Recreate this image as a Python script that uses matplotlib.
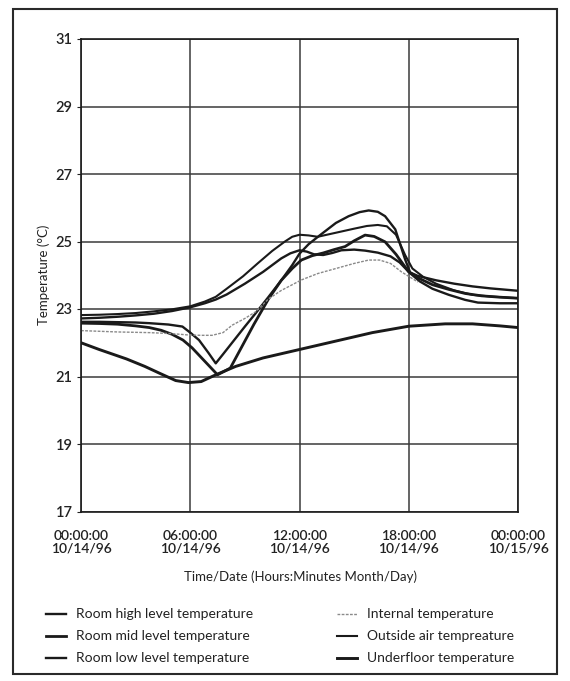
import matplotlib.pyplot as plt
from matplotlib.patches import Rectangle

plt.rcParams['font.family'] = ['Lato', 'DejaVu Sans']

# hours since 00:00 10/14/96
tick_hours = [0, 6, 12, 18, 24]
tick_labels = ['00:00:00\n10/14/96', '06:00:00\n10/14/96', '12:00:00\n10/14/96',
               '18:00:00\n10/14/96', '00:00:00\n10/15/96']

room_high_h = [0, 1, 2, 3, 3.75, 4.8, 5.57, 6.0, 6.48, 7.0, 7.4, 7.8, 8.4, 9.0, 9.6, 10.3,
               11.0, 11.6, 12.0, 12.5, 13.06, 14.0, 14.7, 15.3, 15.8, 16.3, 16.7, 17.26,
               17.8, 18.1, 18.6, 19.3, 20.2, 21.1, 21.8, 23.0, 24.0]
room_high_t = [22.62, 22.62, 22.61, 22.6, 22.58, 22.54, 22.48, 22.3, 22.08, 21.7, 21.39,
               21.66, 22.07, 22.48, 22.88, 23.36, 23.85, 24.3, 24.64, 24.92, 25.16, 25.55,
               25.75, 25.87, 25.92, 25.88, 25.75, 25.36, 24.47, 24.05, 23.82, 23.6, 23.42,
               23.27, 23.19, 23.17, 23.17]

room_mid_h = [0, 1, 2, 3, 3.75, 4.4, 5.0, 5.6, 6.1, 6.8, 7.5, 8.2, 8.8, 9.5, 10.3, 11.0,
              11.6, 12.1, 12.7, 13.3, 13.9, 14.5, 15.0, 15.6, 16.1, 16.7, 17.3, 18.0,
              18.6, 19.3, 20.2, 21.1, 22.0, 23.0, 24.0]
room_mid_t = [22.58, 22.57, 22.55, 22.5, 22.45, 22.37, 22.25, 22.08, 21.85, 21.45, 21.05,
              21.25, 21.85, 22.55, 23.3, 23.85, 24.2, 24.45, 24.58, 24.66, 24.76, 24.85,
              25.02, 25.19, 25.15, 24.99, 24.62, 24.1, 23.9, 23.72, 23.58, 23.46, 23.39,
              23.35, 23.32]

room_low_h = [0, 1, 2, 3, 4, 5, 6, 6.8, 7.4, 8, 9, 10, 10.5, 11, 11.5, 12, 12.4, 12.8,
              13.3, 13.8, 14.3, 15, 15.6, 16.3, 17, 17.5, 18, 18.5, 19.5, 20.5, 21.5,
              22.5, 24]
room_low_t = [22.72, 22.74, 22.77, 22.81, 22.86, 22.94, 23.05, 23.17, 23.28, 23.43, 23.75,
              24.1, 24.3, 24.5, 24.65, 24.74, 24.7, 24.62, 24.6, 24.66, 24.74, 24.76, 24.73,
              24.67, 24.56, 24.38, 24.1, 23.98, 23.85, 23.75, 23.67, 23.61, 23.54]

internal_h = [0, 2, 3.75, 5.0, 5.9, 6.6, 7.2, 7.8, 8.3, 9.0, 9.6, 10.3, 11.0, 12.1, 13.0,
              14.0, 15.0, 15.8, 16.4, 17.0, 17.6, 18.5]
internal_t = [22.36, 22.32, 22.3, 22.27, 22.23, 22.22, 22.22, 22.3, 22.52, 22.72, 22.92,
              23.3, 23.55, 23.86, 24.05, 24.2, 24.35, 24.45, 24.45, 24.35, 24.1, 23.8]

outside_h = [0, 1, 2, 3, 4, 5, 6, 6.8, 7.4, 8, 8.9, 9.7, 10.5, 11.2, 11.6, 12, 12.5, 13,
             13.5, 14, 15, 15.7, 16.3, 16.8, 17.3, 17.8, 18.2, 18.8, 19.5, 20.5, 21.5,
             22.5, 24]
outside_t = [22.82, 22.83, 22.85, 22.88, 22.93, 22.99, 23.08, 23.22, 23.36, 23.6, 23.97,
             24.35, 24.72, 25.0, 25.14, 25.2, 25.18, 25.14, 25.2, 25.26, 25.38, 25.46, 25.49,
             25.45, 25.2, 24.6, 24.2, 23.95, 23.75, 23.55, 23.42, 23.37, 23.32]

underfloor_h = [0, 1, 2.5, 3.5, 4.3, 5.2, 5.9, 6.6, 7.4, 8.5, 10, 12, 14, 16, 18, 20, 21.5,
                23, 24]
underfloor_t = [22.0, 21.8, 21.52, 21.3, 21.1, 20.88, 20.82, 20.85, 21.05, 21.3, 21.55,
                21.8, 22.05, 22.3, 22.49, 22.56, 22.56, 22.5, 22.45]

fig = plt.figure(figsize=(5.7, 6.81), dpi=100)
fig.patches.append(Rectangle((13 / 570, 1 - 674 / 681), 544 / 570, 665 / 681,
                             transform=fig.transFigure, fill=False,
                             edgecolor='#2a2a2a', linewidth=1.5))

ax = fig.add_axes([81 / 570, 1 - 511.5 / 681, 437 / 570, 472.5 / 681])

ink = '#1a1a1a'
ax.plot(room_high_h, room_high_t, color=ink, lw=1.7, label='Room high level temperature')
ax.plot(room_mid_h, room_mid_t, color=ink, lw=2.0, label='Room mid level temperature')
ax.plot(room_low_h, room_low_t, color=ink, lw=1.7, label='Room low level temperature')
ax.plot(internal_h, internal_t, color='#8a8a8a', lw=1.0, ls=(0, (2, 1)),
        label='Internal temperature')
ax.plot(outside_h, outside_t, color=ink, lw=1.5, label='Outside air tempreature')
ax.plot(underfloor_h, underfloor_t, color=ink, lw=2.1, label='Underfloor temperature')

ax.set_xlim(0, 24)
ax.set_ylim(17, 31)
ax.set_xticks(tick_hours)
ax.set_xticklabels(tick_labels, fontsize=10, color='#222222', linespacing=1.05,
                   fontweight='semibold')
ax.set_yticks(range(17, 32, 2))
for lab in ax.get_yticklabels():
    lab.set_fontweight('semibold')
ax.tick_params(axis='x', length=0, pad=13)
ax.tick_params(axis='y', length=3, pad=3, labelsize=10.5, colors='#222222')
ax.grid(True, color='#3a3a3a', linewidth=1.1)
for s in ax.spines.values():
    s.set_color('#1a1a1a')
    s.set_linewidth(1.2)

ax.set_ylabel('Temperature (°C)', fontsize=9.5, color='#222222', labelpad=4)
fig.text(300 / 570, 1 - 577 / 681, 'Time/Date (Hours:Minutes Month/Day)', fontsize=9.5,
         color='#222222', ha='center', va='center')

fig.legend(loc='upper left', bbox_to_anchor=(33 / 570, 1 - 596 / 681), ncol=2,
           frameon=False, fontsize=10, handlelength=1.45, handletextpad=0.75,
           columnspacing=6.0, labelspacing=0.72, labelcolor='#222222')

fig.savefig('out.png', dpi=100)
